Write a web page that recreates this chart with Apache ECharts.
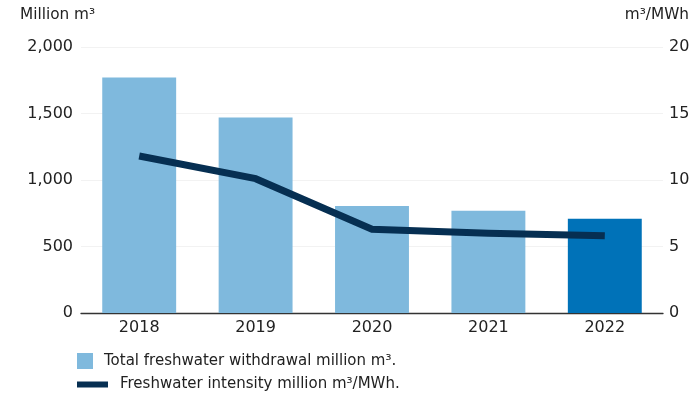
<!DOCTYPE html>
<html><head><meta charset="utf-8">
<script src="https://cdn.jsdelivr.net/npm/echarts@6/dist/echarts.min.js"></script>
<style>html,body{margin:0;padding:0;background:#fff}#c{width:695px;height:394px}</style>
</head><body><div id="c"></div>
<script>
var categories = ['2018', '2019', '2020', '2021', '2022'];
var withdrawal = [1770, 1470, 805, 768, 708];
var intensity = [11.8, 10.1, 6.3, 6.0, 5.8];
var leftTicks = { min: 0, max: 2000, interval: 500 };
var rightTicks = { min: 0, max: 20, interval: 5 };
var barName = 'Total freshwater withdrawal million m³.';
var lineName = 'Freshwater intensity million m³/MWh.';

var FONT = '"DejaVu Sans", sans-serif';
var chart = echarts.init(document.getElementById('c'));
chart.setOption({
  animation: false,
  textStyle: { fontFamily: FONT },
  grid: { left: 81, right: 32, top: 47, bottom: 81 },
  xAxis: {
    type: 'category', data: categories,
    axisTick: { show: false },
    axisLine: { lineStyle: { color: '#333', width: 1.3 } },
    axisLabel: { color: '#222', fontSize: 16, margin: 7, fontFamily: FONT }
  },
  yAxis: [
    { type: 'value', min: leftTicks.min, max: leftTicks.max, interval: leftTicks.interval,
      axisLine: { show: false }, axisTick: { show: false },
      splitLine: { lineStyle: { color: '#f2f2f2', width: 1 } },
      axisLabel: { color: '#222', fontSize: 16, margin: 8, fontFamily: FONT,
        formatter: function (v) { return v.toLocaleString('en-US'); } } },
    { type: 'value', min: rightTicks.min, max: rightTicks.max, interval: rightTicks.interval,
      axisLine: { show: false }, axisTick: { show: false }, splitLine: { show: false },
      axisLabel: { color: '#222', fontSize: 16, margin: 6, fontFamily: FONT } }
  ],
  legend: [
    { data: [{ name: barName, icon: 'rect' }], left: 77, top: 353, padding: 0, itemWidth: 16, itemHeight: 16,
      selectedMode: false,
      textStyle: { color: '#222', fontSize: 15, fontFamily: FONT, padding: [0, 0, 0, 6] } },
    { data: [{ name: lineName, icon: 'rect' }], left: 77, top: 377, padding: 0, itemWidth: 31, itemHeight: 6,
      selectedMode: false,
      textStyle: { color: '#222', fontSize: 15, fontFamily: FONT, padding: [0, 0, 0, 7] } }
  ],
  graphic: [
    { type: 'text', left: 20, top: 8, style: { text: 'Million m³', fill: '#222', fontSize: 15.3, fontFamily: FONT } },
    { type: 'text', right: 6, top: 8, style: { text: 'm³/MWh', fill: '#222', fontSize: 15.3, fontFamily: FONT } }
  ],
  series: [
    { name: barName, type: 'bar', data: withdrawal.map(function (v, i) {
        return { value: v, itemStyle: { color: i === withdrawal.length - 1 ? '#0072b8' : '#7fb9dd' } };
      }),
      barWidth: '63.5%', itemStyle: { color: '#7fb9dd' } },
    { name: lineName, type: 'line', yAxisIndex: 1, data: intensity, showSymbol: false, symbol: 'none',
      lineStyle: { color: '#062f52', width: 7, cap: 'butt', join: 'miter' }, itemStyle: { color: '#062f52' } }
  ]
});
</script></body></html>
